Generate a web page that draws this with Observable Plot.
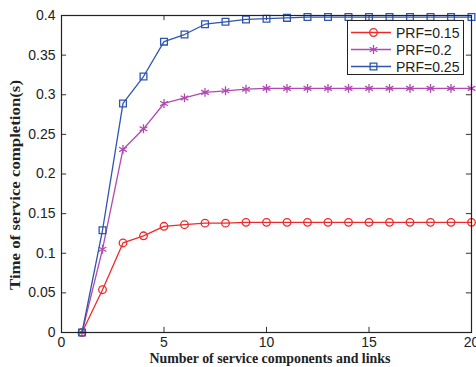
<!DOCTYPE html>
<html>
<head>
<meta charset="utf-8">
<script src="https://cdn.jsdelivr.net/npm/d3@7"></script>
<script src="https://cdn.jsdelivr.net/npm/@observablehq/plot@0.6"></script>
<style>
  html, body { margin: 0; padding: 0; background: #fff; }
  #wrap { position: relative; width: 476px; height: 367px; }
  #legend { position: absolute; left: 347px; top: 20px; width: 117px; height: 55px;
    border: 1px solid #222; background: #fff; box-sizing: border-box;
    font-family: "Liberation Sans", Arial, sans-serif; font-size: 14px; color: #222; }
  .row { position: absolute; left: 0; height: 17px; display: flex; align-items: center; }
  .row svg { display: block; }
  .row span { margin-left: 4px; }
</style>
</head>
<body>
<div id="wrap"></div>
<script>
const nodes = [1,2,3,4,5,6,7,8,9,10,11,12,13,14,15,16,17,18,19,20];
const prf015 = [0,0.054,0.113,0.122,0.134,0.136,0.138,0.138,0.139,0.139,0.139,0.139,0.139,0.139,0.139,0.139,0.139,0.139,0.139,0.139];
const prf020 = [0,0.105,0.231,0.257,0.289,0.296,0.303,0.305,0.307,0.308,0.308,0.308,0.308,0.308,0.308,0.308,0.308,0.308,0.308,0.308];
const prf025 = [0,0.129,0.289,0.323,0.367,0.376,0.389,0.392,0.395,0.396,0.397,0.398,0.398,0.398,0.398,0.398,0.398,0.398,0.398,0.398];
const seriesNames = ["PRF=0.15","PRF=0.2","PRF=0.25"];
const seriesColors = ["#ee2a2a","#b04ab0","#2f55b0"];
const seriesSymbols = ["circle","asterisk","square"];
const xTicks = [0,5,10,15,20];
const yTicks = [0,0.05,0.1,0.15,0.2,0.25,0.3,0.35,0.4];

const allSeries = [prf015, prf020, prf025];
const rows = [];
allSeries.forEach((vals, si) => vals.forEach((v, i) => rows.push({x: nodes[i], y: v, s: seriesNames[si]})));

const colorScale = {domain: seriesNames, range: seriesColors};
const symbolScale = {domain: seriesNames, range: seriesSymbols};

const tickLenY = 0.0065; // in y units (~5px)
const tickLenX = 0.25;   // in x units (~5px)

const marks = [];
seriesNames.forEach((name, si) => {
  const data = rows.filter(d => d.s === name);
  marks.push(Plot.line(data, {x: "x", y: "y", stroke: seriesColors[si], strokeWidth: 1.3}));
  marks.push(Plot.dot(data, {x: "x", y: "y", stroke: seriesColors[si], fill: "none",
    symbol: () => seriesSymbols[si], r: si === 1 ? 4.2 : 3.8, strokeWidth: 1.3}));
});

const plot = Plot.plot({
  width: 476, height: 367,
  marginLeft: 61, marginRight: 5, marginTop: 15, marginBottom: 35,
  style: {fontFamily: "'Liberation Sans', Arial, sans-serif", fontSize: "14px", color: "#222", background: "#fff"},
  x: {domain: [0, 20], label: null},
  y: {domain: [0, 0.4], label: null},
  symbol: {type: "identity"},
  marks: [
    Plot.axisX(xTicks, {tickSize: 0, tickPadding: 5, fontSize: 14, fill: "#222"}),
    Plot.axisY(yTicks, {tickSize: 0, tickPadding: 6, fontSize: 14, fill: "#222", tickFormat: d => String(d)}),
    Plot.ruleX(xTicks, {x: d => d, y1: 0, y2: tickLenY, stroke: "#333"}),
    Plot.ruleX(xTicks, {x: d => d, y1: 0.4, y2: 0.4 - tickLenY, stroke: "#333"}),
    Plot.ruleY(yTicks, {y: d => d, x1: 0, x2: tickLenX, stroke: "#333"}),
    Plot.ruleY(yTicks, {y: d => d, x1: 20, x2: 20 - tickLenX, stroke: "#333"}),
    ...marks,
    Plot.frame({stroke: "#222", strokeWidth: 1.2})
  ]
});

const svg = d3.select(plot);
svg.append("text")
  .attr("x", 270).attr("y", 363)
  .attr("text-anchor", "middle")
  .attr("font-family", "'Liberation Serif', 'Times New Roman', serif")
  .attr("font-weight", "bold").attr("font-size", 13.9).attr("fill", "#222")
  .text("Number of service components and links");
svg.append("text")
  .attr("transform", "translate(20,185) rotate(-90) scale(1.2,1)")
  .attr("text-anchor", "middle")
  .attr("font-family", "'Liberation Serif', 'Times New Roman', serif")
  .attr("font-weight", "bold").attr("font-size", 14).attr("fill", "#222")
  .text("Time of service completion(s)");

const wrap = document.getElementById("wrap");
wrap.appendChild(plot);

// legend
const legend = document.createElement("div");
legend.id = "legend";
wrap.appendChild(legend);
const rowTops = [3, 20, 37];
seriesNames.forEach((name, si) => {
  const row = document.createElement("div");
  row.className = "row";
  row.style.top = rowTops[si] + "px";
  const s = d3.create("svg").attr("width", 44).attr("height", 17);
  s.append("line").attr("x1", 3).attr("x2", 43).attr("y1", 8.5).attr("y2", 8.5)
    .attr("stroke", seriesColors[si]).attr("stroke-width", 1.3);
  const sym = {circle: d3.symbolCircle, asterisk: d3.symbolAsterisk, square: d3.symbolSquare}[seriesSymbols[si]];
  const r = si === 1 ? 4.2 : 3.8;
  s.append("path").attr("d", d3.symbol(sym, Math.PI * r * r)())
    .attr("transform", "translate(25.5,8.5)")
    .attr("fill", "none").attr("stroke", seriesColors[si]).attr("stroke-width", 1.3);
  row.appendChild(s.node());
  const t = document.createElement("span");
  t.textContent = name;
  row.appendChild(t);
  legend.appendChild(row);
});
</script>
</body>
</html>
